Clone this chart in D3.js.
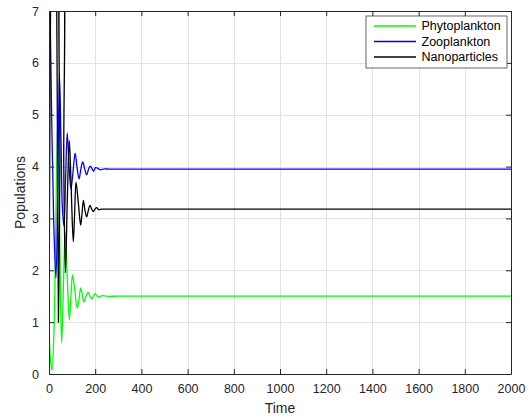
<!DOCTYPE html>
<html>
<head>
<meta charset="utf-8">
<script src="https://cdn.jsdelivr.net/npm/d3@7"></script>
<style>
  body { margin: 0; background: #fff; }
  svg { display: block; font-family: "Liberation Sans", Arial, sans-serif; }
</style>
</head>
<body>
<div id="chart"></div>
<script>
const width = 531;
const height = 420;
const margin = { top: 11, right: 20, bottom: 46, left: 49 };

// values: [time, population]
const phyto = [
  [0, 1.0], [6, 0.3], [13, 0.07], [22, 0.9], [30, 3.0], [37, 4.8], [44, 3.5], [50, 1.4],
  [55, 0.6], [63, 1.8], [70, 2.75], [78, 2.0], [88, 1.04], [95, 1.5], [102, 1.91],
  [112, 1.6], [122, 1.27], [130, 1.45], [137, 1.66], [144, 1.53], [151, 1.39],
  [160, 1.5], [170, 1.58], [177, 1.5], [185, 1.45], [192, 1.5], [199, 1.55],
  [207, 1.51], [215, 1.48], [230, 1.51], [250, 1.5], [300, 1.5], [2000, 1.5]
];
const zoo = [
  [0, 8.5], [8, 6.0], [20, 3.0], [30, 1.85], [38, 3.5], [45, 5.8], [52, 4.5], [58, 3.2],
  [65, 2.85], [72, 3.8], [79, 4.65], [87, 4.0], [95, 3.57], [104, 3.9], [113, 4.26],
  [121, 4.0], [130, 3.76], [138, 3.95], [146, 4.09], [155, 3.95], [163, 3.84],
  [170, 3.93], [178, 4.01], [186, 3.96], [193, 3.91], [201, 3.98], [210, 3.97],
  [220, 3.94], [240, 3.955], [260, 3.95], [300, 3.95], [2000, 3.95]
];
const nano = [
  [0, 0.5], [5, 6.0], [10, 9.0], [20, 11.0], [30, 9.0], [36, 5.0], [41, 1.0], [47, 4.0],
  [53, 8.0], [58, 8.0], [64, 4.0], [71, 1.95], [80, 3.5], [88, 4.5], [96, 3.6],
  [105, 2.55], [111, 3.1], [117, 3.7], [127, 3.3], [137, 2.87], [143, 3.1], [149, 3.35],
  [156, 3.15], [163, 3.03], [170, 3.15], [177, 3.25], [185, 3.18], [192, 3.13],
  [199, 3.18], [206, 3.21], [215, 3.17], [230, 3.18], [260, 3.18], [300, 3.18], [2000, 3.18]
];

const seriesNames = ["Phytoplankton", "Zooplankton", "Nanoparticles"];
const seriesColors = ["#00ff00", "#0000ff", "#000000"];
const xTicks = [0, 200, 400, 600, 800, 1000, 1200, 1400, 1600, 1800, 2000];
const yTicks = [0, 1, 2, 3, 4, 5, 6, 7];

const axisColor = "#262626";
const gridColor = "#e3e3e3";
const color = d3.scaleOrdinal(seriesNames, seriesColors);

const svg = d3.select("#chart").append("svg")
  .attr("width", width)
  .attr("height", height);

const x = d3.scaleLinear().domain([0, 2000]).range([margin.left, width - margin.right]);
const y = d3.scaleLinear().domain([0, 7]).range([height - margin.bottom, margin.top]);

// grid
svg.append("g")
  .attr("stroke", gridColor)
  .attr("stroke-width", 1)
  .call(g => g.selectAll(".vx").data(xTicks.slice(1, -1)).join("line")
    .attr("x1", d => Math.round(x(d)) + 0.5).attr("x2", d => Math.round(x(d)) + 0.5)
    .attr("y1", y(0)).attr("y2", y(7)))
  .call(g => g.selectAll(".hy").data(yTicks.slice(1, -1)).join("line")
    .attr("y1", d => Math.round(y(d)) + 0.5).attr("y2", d => Math.round(y(d)) + 0.5)
    .attr("x1", x(0)).attr("x2", x(2000)));

svg.append("clipPath").attr("id", "clip")
  .append("rect")
  .attr("x", x(0)).attr("y", y(7))
  .attr("width", x(2000) - x(0)).attr("height", y(0) - y(7));

const line = d3.line()
  .x(d => x(d[0]))
  .y(d => y(d[1]))
  .curve(d3.curveCatmullRom.alpha(0.5));

const lines = svg.append("g").attr("clip-path", "url(#clip)").attr("fill", "none");
[phyto, zoo, nano].forEach((data, i) => {
  lines.append("path")
    .attr("d", line(data))
    .attr("stroke", seriesColors[i])
    .attr("stroke-width", 1.3);
});

// axes (ticks inward, box on all sides)
const fmt = d3.format("d");
const xAxis = d3.axisBottom(x).tickValues(xTicks).tickFormat(fmt).tickSizeInner(-5).tickSizeOuter(0).tickPadding(10);
const yAxis = d3.axisLeft(y).tickValues(yTicks).tickFormat(fmt).tickSizeInner(-5).tickSizeOuter(0).tickPadding(10);

const styleAxis = g => {
  g.select(".domain").attr("stroke", axisColor);
  g.selectAll(".tick line").attr("stroke", axisColor);
  g.selectAll(".tick text").attr("fill", axisColor).attr("font-size", 12.5)
    .attr("font-family", "Liberation Sans, Arial, sans-serif");
};

svg.append("g")
  .attr("transform", `translate(0,${y(0)})`)
  .call(xAxis).call(styleAxis);

svg.append("g")
  .attr("transform", `translate(${x(0)},0)`)
  .call(yAxis).call(styleAxis);

svg.append("g")
  .attr("transform", `translate(0,${y(7)})`)
  .call(d3.axisTop(x).tickValues(xTicks).tickSizeInner(-5).tickSizeOuter(0).tickFormat(""))
  .call(styleAxis);

svg.append("g")
  .attr("transform", `translate(${x(2000)},0)`)
  .call(d3.axisRight(y).tickValues(yTicks).tickSizeInner(-5).tickSizeOuter(0).tickFormat(""))
  .call(styleAxis);

// labels
svg.append("text")
  .attr("x", (x(0) + x(2000)) / 2)
  .attr("y", 413)
  .attr("text-anchor", "middle")
  .attr("font-size", 14)
  .attr("fill", axisColor)
  .text("Time");

svg.append("text")
  .attr("transform", `translate(25,${(y(0) + y(7)) / 2}) rotate(-90)`)
  .attr("text-anchor", "middle")
  .attr("font-size", 14)
  .attr("fill", axisColor)
  .text("Populations");

// legend
const legend = svg.append("g").attr("transform", "translate(366,16)");
legend.append("rect")
  .attr("width", 141).attr("height", 52)
  .attr("fill", "#fff")
  .attr("stroke", axisColor)
  .attr("stroke-width", 0.7);

const item = legend.selectAll("g.item")
  .data(seriesNames)
  .join("g")
  .attr("class", "item")
  .attr("transform", (d, i) => `translate(0,${10 + i * 15.5})`);

item.append("line")
  .attr("x1", 8).attr("x2", 50)
  .attr("stroke", d => color(d))
  .attr("stroke-width", 1.3);

item.append("text")
  .attr("x", 55.5)
  .attr("dy", "0.35em")
  .attr("font-size", 12.5)
  .attr("fill", "#000")
  .text(d => d);
</script>
</body>
</html>
